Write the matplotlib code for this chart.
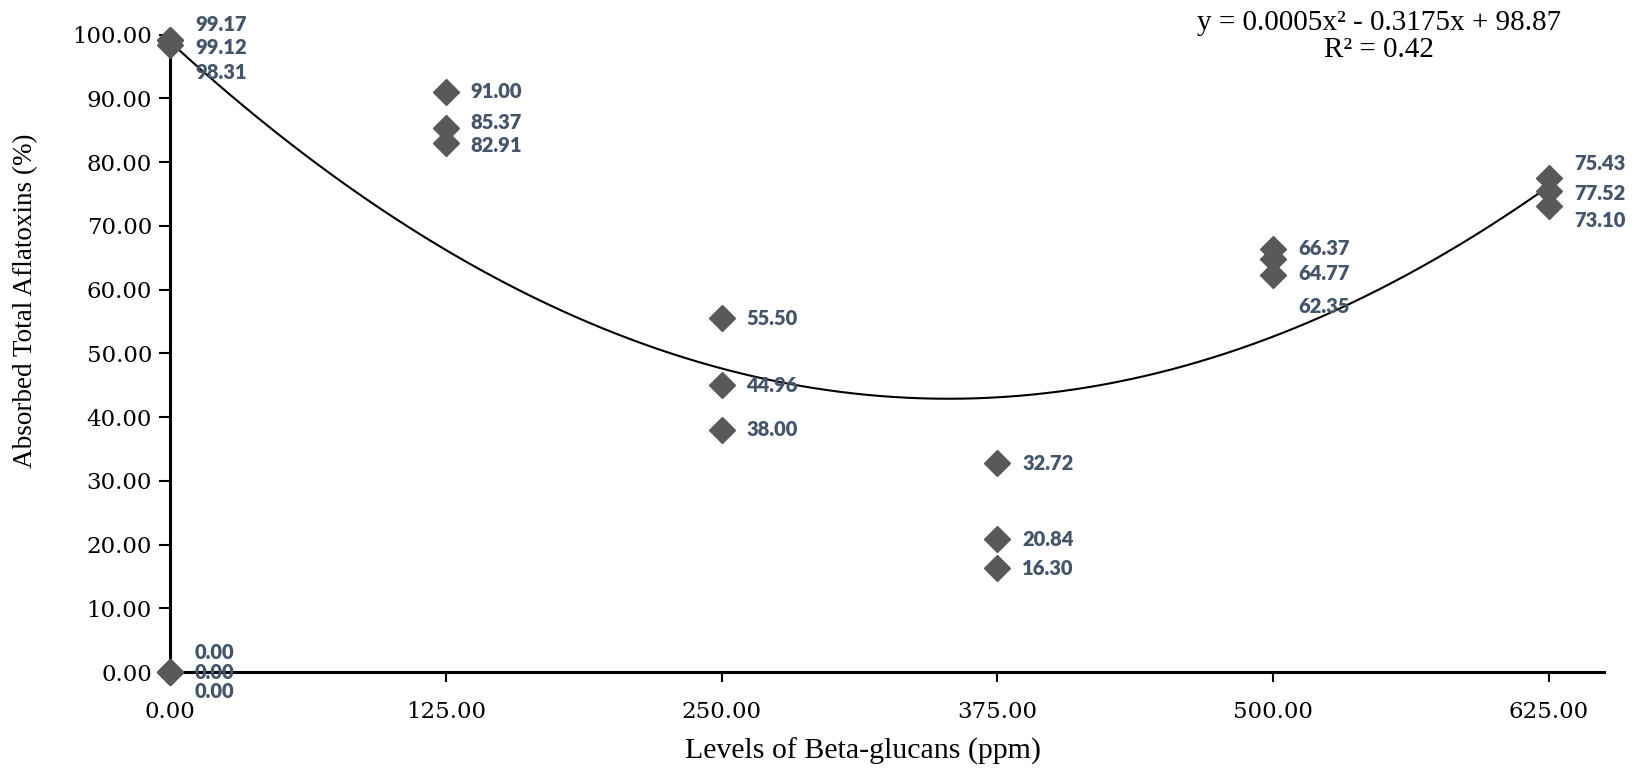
import matplotlib.pyplot as plt
import numpy as np

plt.rcParams['font.family'] = ['Liberation Serif', 'DejaVu Serif']

# Beta-glucan levels (ppm) and absorbed aflatoxins (%)
levels = [0, 0, 0, 0, 0, 0,
          125, 125, 125,
          250, 250, 250,
          375, 375, 375,
          500, 500, 500,
          625, 625, 625]
absorbed = [99.17, 99.12, 98.31, 0.00, 0.00, 0.00,
            91.00, 85.37, 82.91,
            55.50, 44.96, 38.00,
            32.72, 20.84, 16.30,
            66.37, 64.77, 62.35,
            75.43, 77.52, 73.10]
x_ticks = [0, 125, 250, 375, 500, 625]
y_ticks = [0, 10, 20, 30, 40, 50, 60, 70, 80, 90, 100]

# polynomial trendline as printed on the chart (x^2 term)
trend_coef = [0.00045, -0.3175, 98.87]
trend_text = 'y = 0.0005x² - 0.3175x + 98.87\nR² = 0.42'

# label nudges (in % units) where labels were moved apart in the original
label_dy = [2.4, -1.1, -4.2, 3.0, 0.0, -3.0,
            0.0, 0.8, -0.3,
            0.0, 0.0, 0.0,
            0.0, 0.0, 0.0,
            0.0, -2.3, -5.0,
            4.3, -2.4, -2.3]

fig = plt.figure(figsize=(16.39, 7.76), dpi=100)
ax = fig.add_axes([0.1037, 0.134, 0.875, 0.8215])

x = np.array(levels, dtype=float)
y = np.array(absorbed)

xs = np.linspace(0, 625, 300)
ax.plot(xs, np.polyval(trend_coef, xs), color='black', lw=1.5, zorder=2)

ax.plot(x, y, 'D', color='#595959', ms=13.5, mec='#595959', zorder=3,
        clip_on=False)

for xi, yi, dy in zip(x, y, label_dy):
    ax.annotate(f'{yi:.2f}', (xi, yi + dy), xytext=(18, 0),
                textcoords='offset points', va='center', ha='left',
                fontsize=14.5, fontweight='heavy', color='#44546A',
                family=['Lato', 'DejaVu Sans'], zorder=4,
                annotation_clip=False)

ax.text(0.843, 1.038, trend_text, transform=ax.transAxes, ha='center',
        va='top', fontsize=21, linespacing=1.05)

ax.set_xlim(0, 650)
ax.set_ylim(0, 100)
ax.set_xticks(x_ticks)
ax.set_yticks(y_ticks)
tick_font = ['DejaVu Serif']
ax.set_xticklabels([f'{t:.2f}' for t in x_ticks], family=tick_font,
                   fontsize=16.5)
ax.set_yticklabels([f'{t:.2f}' for t in y_ticks], family=tick_font,
                   fontsize=16.5)
ax.tick_params(axis='y', direction='out', length=8, width=1.5, pad=5)
ax.tick_params(axis='x', direction='out', length=7, width=1.5, pad=14)

for side in ['top', 'right']:
    ax.spines[side].set_visible(False)
for side in ['left', 'bottom']:
    ax.spines[side].set_linewidth(2.2)

ax.set_xlabel('Levels of Beta-glucans (ppm)', fontsize=21.5)
ax.set_ylabel('Absorbed Total Aflatoxins (%)', fontsize=19.5)
ax.xaxis.set_label_coords(0.483, -0.103)
ax.yaxis.set_label_coords(-0.092, 0.582)

fig.savefig('out.png', dpi=100)
